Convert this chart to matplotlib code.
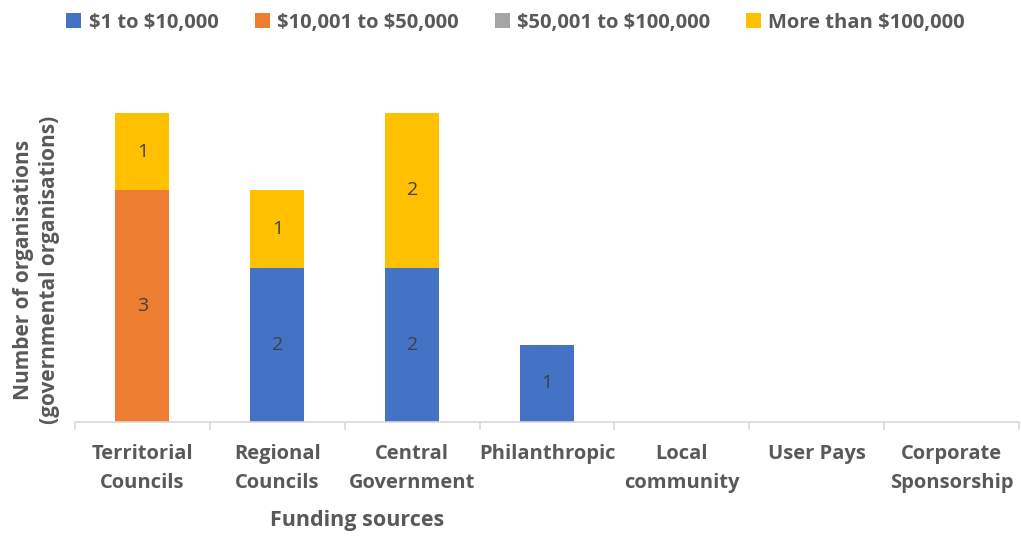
import numpy as np
import matplotlib.pyplot as plt

plt.rcParams['font.family'] = ['Open Sans', 'DejaVu Sans']

sources = ['Territorial\nCouncils', 'Regional\nCouncils', 'Central\nGovernment',
           'Philanthropic', 'Local\ncommunity', 'User Pays', 'Corporate\nSponsorship']
bands = [r'\$1 to \$10,000', r'\$10,001 to \$50,000', r'\$50,001 to \$100,000',
         r'More than \$100,000']
band_1_10k = [0, 2, 2, 1, 0, 0, 0]
band_10k_50k = [3, 0, 0, 0, 0, 0, 0]
band_50k_100k = [0, 0, 0, 0, 0, 0, 0]
band_100k_plus = [1, 1, 2, 0, 0, 0, 0]

colors = ['#4472C4', '#ED7D31', '#A5A5A5', '#FFC000']
text_col = '#595959'

fig = plt.figure(figsize=(10.21, 5.36), dpi=100)
ax = fig.add_axes([0.0735, 0.2127, 0.9245, 0.5763])

x = np.arange(len(sources))
bottom = np.zeros(len(sources))
for name, vals, c in zip(bands, [band_1_10k, band_10k_50k, band_50k_100k, band_100k_plus], colors):
    vals = np.array(vals, dtype=float)
    bars = ax.bar(x, vals, 0.4, bottom=bottom, color=c, label=name)
    labels = [f'{int(v)}' if v > 0 else '' for v in vals]
    ax.bar_label(bars, labels=labels, label_type='center', fontsize=14, color='#404040')
    bottom += vals

ax.set_xlim(-0.5, len(sources) - 0.5)
ax.set_ylim(0, 4)
ax.set_yticks([])
for s in ['top', 'right', 'left']:
    ax.spines[s].set_visible(False)
ax.spines['bottom'].set_color('#D9D9D9')
ax.spines['bottom'].set_linewidth(1.2)

# category labels centred, tick marks on the boundaries
ax.set_xticks(x)
ax.set_xticklabels(sources, fontsize=14.5, fontweight='bold', color=text_col, linespacing=1.6)
ax.tick_params(axis='x', length=0, pad=16)
ax.set_xticks(np.arange(len(sources) + 1) - 0.5, minor=True)
ax.tick_params(axis='x', which='minor', length=6, color='#D9D9D9', width=1.2)

fig.text(0.036, 0.496, 'Number of organisations\n(governmental organisations)',
         rotation=90, fontsize=15, fontweight='bold', color=text_col,
         ha='center', va='center', linespacing=1.3)
fig.text(0.35, 0.028, 'Funding sources', fontsize=15.5, fontweight='bold',
         color=text_col, ha='center', va='center')

leg = fig.legend(loc='center', bbox_to_anchor=(0.505, 0.958), ncol=4, frameon=False,
                 fontsize=14.5, handlelength=0.75, handleheight=0.75, handletextpad=0.35,
                 columnspacing=1.8)
for t in leg.get_texts():
    t.set_color(text_col)
    t.set_fontweight('bold')

fig.savefig('out.png', dpi=100)
